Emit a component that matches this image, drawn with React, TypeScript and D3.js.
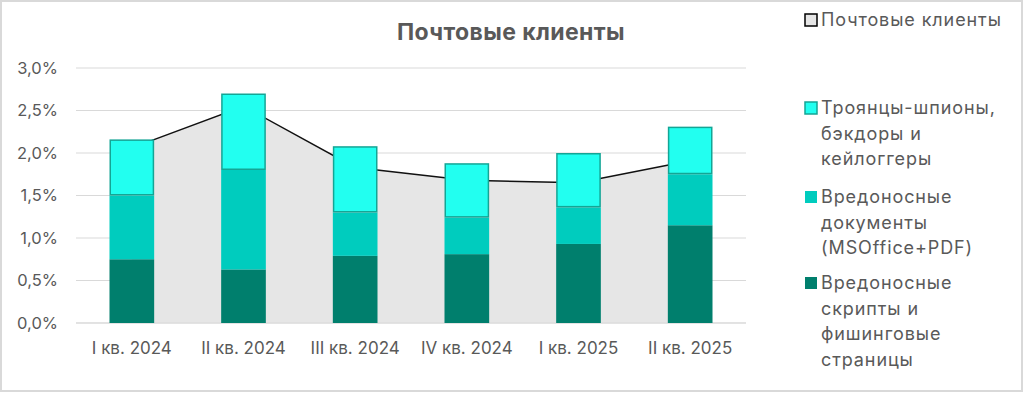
import React, { useEffect, useRef } from 'react';
import * as d3 from 'd3';

const categories = ['I кв. 2024', 'II кв. 2024', 'III кв. 2024', 'IV кв. 2024', 'I кв. 2025', 'II кв. 2025'];
const scripts = [0.75, 0.63, 0.79, 0.81, 0.93, 1.15];
const documents = [0.75, 1.17, 0.51, 0.43, 0.43, 0.6];
const trojans = [0.66, 0.9, 0.78, 0.64, 0.64, 0.56];
const mailClients = [2.06, 2.55, 1.83, 1.68, 1.65, 1.91];
const yTicks = [0, 0.5, 1, 1.5, 2, 2.5, 3];

const seriesKeys = ['scripts', 'documents', 'trojans'];
const seriesColors: Record<string, string> = {
    scripts: '#007F6D',
    documents: '#00CCBE',
    trojans: '#22FFF0',
};

const legendItems = [
    { lines: ['Почтовые клиенты'], fill: '#E6E6E6', stroke: '#000000' },
    { lines: ['Троянцы-шпионы,', 'бэкдоры и', 'кейлоггеры'], fill: '#22FFF0', stroke: '#14A595' },
    { lines: ['Вредоносные', 'документы', '(MSOffice+PDF)'], fill: '#00CCBE', stroke: 'none' },
    { lines: ['Вредоносные', 'скрипты и', 'фишинговые', 'страницы'], fill: '#007F6D', stroke: 'none' },
];

const FONT = 'Inter, "Noto Sans", sans-serif';
const TEXT = '#595959';

export default function App() {
    const svgRef = useRef<SVGSVGElement>(null);

    useEffect(() => {
        if (!svgRef.current) return;
        const svg = d3.select(svgRef.current);
        svg.selectAll('*').remove();

        const width = 1024;
        const height = 393;
        const plot = { left: 76, right: 746, top: 68, bottom: 323 };

        // outer frame
        svg.append('rect')
            .attr('x', 1).attr('y', 1)
            .attr('width', width - 3).attr('height', height - 3)
            .attr('fill', 'white')
            .attr('stroke', '#D9D9D9')
            .attr('stroke-width', 2);

        const x = d3.scaleBand<string>()
            .domain(categories)
            .range([plot.left, plot.right])
            .paddingInner(0.6)
            .paddingOuter(0.3);

        const y = d3.scaleLinear()
            .domain([0, 3])
            .range([plot.bottom, plot.top]);

        // gridlines
        svg.append('g')
            .selectAll('line')
            .data(yTicks)
            .join('line')
            .attr('x1', plot.left)
            .attr('x2', plot.right)
            .attr('y1', d => y(d))
            .attr('y2', d => y(d))
            .attr('stroke', '#D9D9D9')
            .attr('stroke-width', 1);

        // area series
        const cx = (i: number) => (x(categories[i]) ?? 0) + x.bandwidth() / 2;
        const area = d3.area<number>()
            .x((_d, i) => cx(i))
            .y0(y(0))
            .y1(d => y(d));
        const line = d3.line<number>()
            .x((_d, i) => cx(i))
            .y(d => y(d));

        svg.append('path')
            .datum(mailClients)
            .attr('fill', '#E6E6E6')
            .attr('d', area);
        svg.append('path')
            .datum(mailClients)
            .attr('fill', 'none')
            .attr('stroke', '#111111')
            .attr('stroke-width', 1.5)
            .attr('d', line);

        // baseline on top of area
        svg.append('line')
            .attr('x1', plot.left).attr('x2', plot.right)
            .attr('y1', y(0)).attr('y2', y(0))
            .attr('stroke', '#D9D9D9');

        // stacked bars
        const rows = categories.map((c, i) => ({
            category: c,
            scripts: scripts[i],
            documents: documents[i],
            trojans: trojans[i],
        }));
        const stacked = d3.stack<any>().keys(seriesKeys)(rows);

        stacked.forEach(layer => {
            const isTop = layer.key === 'trojans';
            svg.append('g')
                .selectAll('rect')
                .data(layer)
                .join('rect')
                .attr('x', d => (x(d.data.category) ?? 0) + (isTop ? 0.75 : 0))
                .attr('y', d => y(d[1]) + (isTop ? 0.75 : 0))
                .attr('width', x.bandwidth() - (isTop ? 1.5 : 0))
                .attr('height', d => y(d[0]) - y(d[1]) - (isTop ? 1.5 : 0))
                .attr('fill', seriesColors[layer.key])
                .attr('stroke', isTop ? '#14A595' : 'none')
                .attr('stroke-width', isTop ? 1.5 : 0);
        });

        // y axis labels
        svg.append('g')
            .selectAll('text')
            .data(yTicks)
            .join('text')
            .attr('x', 58)
            .attr('y', d => y(d))
            .attr('dy', '0.35em')
            .attr('text-anchor', 'end')
            .attr('font-family', FONT)
            .attr('font-size', 16.5)
            .attr('fill', TEXT)
            .text(d => d.toFixed(1).replace('.', ',') + '%');

        // x axis labels
        svg.append('g')
            .selectAll('text')
            .data(categories)
            .join('text')
            .attr('x', d => (x(d) ?? 0) + x.bandwidth() / 2)
            .attr('y', 354)
            .attr('text-anchor', 'middle')
            .attr('font-family', FONT)
            .attr('font-size', 17)
            .attr('fill', TEXT)
            .text(d => d);

        // title
        svg.append('text')
            .attr('x', 511)
            .attr('y', 40)
            .attr('text-anchor', 'middle')
            .attr('font-family', FONT)
            .attr('font-size', 23)
            .attr('font-weight', 'bold')
            .attr('letter-spacing', 0.4)
            .attr('fill', TEXT)
            .text('Почтовые клиенты');

        // legend
        const legendTop = [20, 108, 197, 283];
        const lineH = 25.5;
        legendItems.forEach((item, k) => {
            const g = svg.append('g');
            g.append('rect')
                .attr('x', 805)
                .attr('y', legendTop[k] - 6)
                .attr('width', 12)
                .attr('height', 12)
                .attr('fill', item.fill)
                .attr('stroke', item.stroke)
                .attr('stroke-width', item.stroke === 'none' ? 0 : 1.5);
            const t = g.append('text')
                .attr('font-family', FONT)
                .attr('font-size', 18)
                .attr('letter-spacing', 0.9)
                .attr('fill', TEXT);
            item.lines.forEach((ln, j) => {
                t.append('tspan')
                    .attr('x', 821)
                    .attr('y', legendTop[k] + j * lineH)
                    .attr('dy', '0.35em')
                    .text(ln);
            });
        });
    }, []);

    return (
        <div style={{ position: 'absolute', left: 0, top: 0 }}>
            <svg ref={svgRef} width={1024} height={393} style={{ display: 'block' }} />
        </div>
    );
}
